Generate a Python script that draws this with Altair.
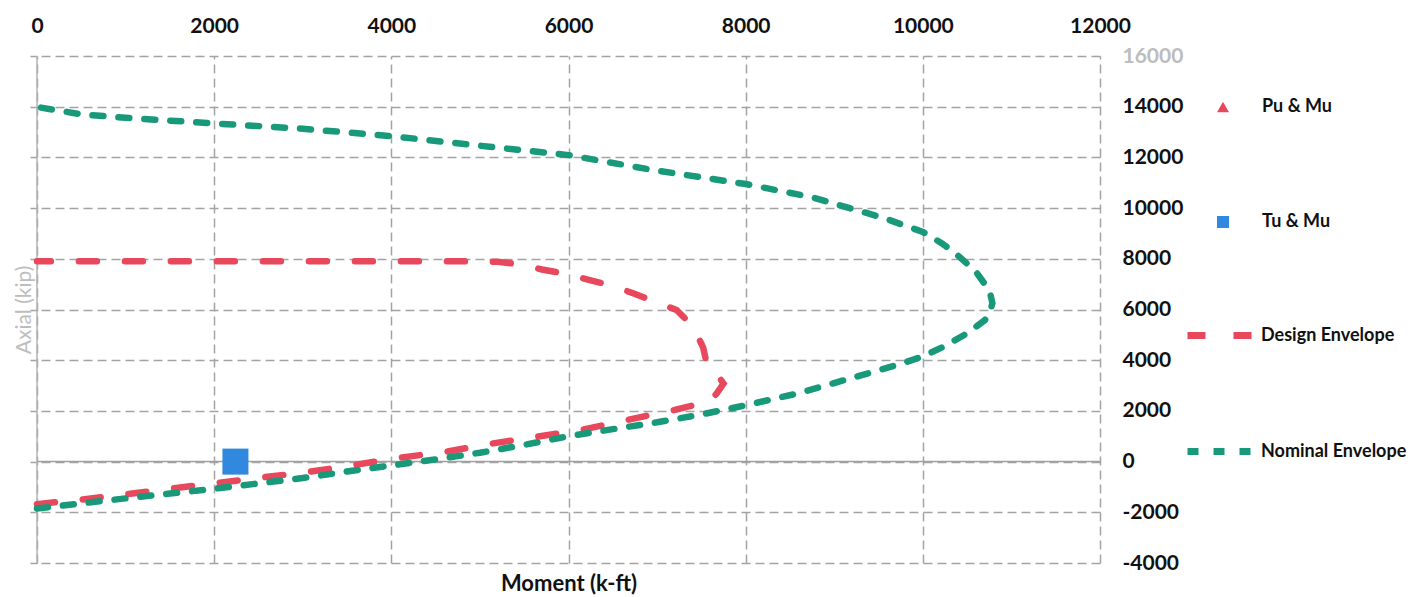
import altair as alt
import pandas as pd

# ---------------- data ----------------
env_names = ["Design Envelope", "Nominal Envelope"]

nominal_m = [0, 500, 1000, 1500, 2000, 2500, 3000, 3500, 4000, 4500, 5000, 5500, 6000, 6500,
             7000, 7500, 8000, 8600, 9200, 9700, 10000, 10250, 10500, 10700, 10760, 10785, 10760,
             10700, 10600, 10390, 10220, 10000, 9540, 8760, 8000, 6960, 6000, 5000, 4000, 3000,
             2000, 1000, 500, 0]
nominal_p = [-1850, -1650, -1450, -1260, -1070, -860, -650, -390, -150, 90, 350, 660, 1000, 1280,
             1550, 1860, 2220, 2700, 3300, 3800, 4150, 4560, 5060, 5580, 5900, 6250, 6650,
             7000, 7490, 8150, 8600, 9060, 9630, 10420, 10950, 11500, 12090, 12460, 12840, 13130,
             13340, 13560, 13700, 13990]

design_m = [0, 500, 1000, 1500, 2000, 2550, 3080, 3570, 4020, 4620, 5150, 5640, 6170, 6660,
            7200, 7600, 7680, 7750, 7620, 7560, 7520, 7410, 7220, 6975, 6730, 6470, 6240,
            5960, 5700, 5450, 5200, 4800, 0]
design_p = [-1680, -1500, -1290, -1070, -860, -620, -400, -140, 120, 390, 720, 980, 1270, 1640,
            2040, 2380, 2720, 3080, 3730, 3870, 4500, 5320, 5980, 6305, 6640, 6960, 7160,
            7410, 7580, 7780, 7880, 7900, 7900]

point_names = ["Pu & Mu", "Tu & Mu"]
point_m = [2240, 2240]
point_p = [0, 0]

x_ticks = [0, 2000, 4000, 6000, 8000, 10000, 12000]
y_ticks = [-4000, -2000, 0, 2000, 4000, 6000, 8000, 10000, 12000, 14000, 16000]
zero_lines = [0]

RED = "#e8485c"
GREEN = "#17997a"
BLUE = "#3088df"
GRID = "#a3a3a3"
FONT = "Lato"

rows = []
for name, ms, ps in [(env_names[0], design_m, design_p), (env_names[1], nominal_m, nominal_p)]:
    for i, (m, p) in enumerate(zip(ms, ps)):
        rows.append({"series": name, "idx": i, "M": m, "P": p})
env_df = pd.DataFrame(rows)
pt_df = pd.DataFrame({"pt": point_names, "M": point_m, "P": point_p})
zero_df = pd.DataFrame({"v": zero_lines})

xs = alt.Scale(domain=[0, 12000], nice=False, zero=False)
ys = alt.Scale(domain=[-4000, 16000], nice=False, zero=False)

x_axis_top = alt.Axis(orient="top", values=x_ticks, format="d", title=None, labelFlush=False,
                      labelOverlap=False, ticks=False, tickSize=0, domain=False, grid=True,
                      gridColor=GRID, gridDash=[9, 5], gridWidth=1.5, labelFont=FONT,
                      labelFontSize=21, labelFontWeight="bold", labelColor="#111111",
                      labelPadding=20)
y_axis_right = alt.Axis(orient="right", values=y_ticks, labelExpr="'' + datum.value", title=None,
                        labelOverlap=False, ticks=False, tickSize=0, domain=False, grid=True,
                        gridColor=GRID, gridDash=[9, 5], gridWidth=1.5, labelFont=FONT,
                        labelFontSize=21, labelFontWeight="bold", labelPadding=22,
                        labelColor={"condition": {"test": "datum.value == 16000", "value": "#bdbdbd"},
                                    "value": "#111111"})
x_axis_bottom = alt.Axis(orient="bottom", title="Moment (k-ft)", labels=False, ticks=False,
                         domain=False, grid=False, titleFont=FONT, titleFontSize=22,
                         titleFontWeight="bold", titleColor="#111111", titlePadding=10)
y_axis_left = alt.Axis(orient="left", values=y_ticks, title="Axial (kip)", labels=False,
                       ticks=True, tickSize=7, tickColor=GRID, tickWidth=1.5, domain=False,
                       grid=False, titleFont=FONT, titleFontSize=21, titleFontWeight="normal",
                       titleColor="#bdbdbd", titlePadding=-5)

env_legend = alt.Legend(orient="none", legendX=1147, legendY=241, title=None, padding=0,
                        symbolType="stroke", symbolSize=4900, symbolStrokeWidth=7,
                        labelFont=FONT, labelFontSize=18, labelFontWeight="bold",
                        labelColor="#111111", labelOffset=0, rowPadding=63)
pt_legend = alt.Legend(orient="none", legendX=1177, legendY=42, title=None, padding=0,
                       symbolSize=144, labelFont=FONT, labelFontSize=18, labelFontWeight="bold",
                       labelColor="#111111", labelOffset=30, rowPadding=97)

rule_x = alt.Chart(zero_df).mark_rule(color="#b3b3b3", strokeWidth=1.5).encode(
    x=alt.X("v:Q", scale=xs, axis=None))
rule_y = alt.Chart(zero_df).mark_rule(color="#a0a0a0", strokeWidth=1.5).encode(
    y=alt.Y("v:Q", scale=ys, axis=None))

lines = alt.Chart(env_df).mark_line(strokeWidth=6.5, strokeCap="round").encode(
    x=alt.X("M:Q", scale=xs, axis=x_axis_top),
    y=alt.Y("P:Q", scale=ys, axis=y_axis_right),
    stroke=alt.Stroke("series:N", scale=alt.Scale(domain=env_names, range=[RED, GREEN]),
                      legend=env_legend),
    strokeDash=alt.StrokeDash("series:N",
                              scale=alt.Scale(domain=env_names, range=[[18, 28], [11, 15]]),
                              legend=env_legend),
    order="idx:Q",
)

points = alt.Chart(pt_df).mark_point(filled=True, size=676, opacity=1).encode(
    x=alt.X("M:Q", scale=xs, axis=x_axis_bottom),
    y=alt.Y("P:Q", scale=ys, axis=y_axis_left),
    color=alt.Color("pt:N", scale=alt.Scale(domain=point_names, range=[RED, BLUE]),
                    legend=pt_legend),
    shape=alt.Shape("pt:N", scale=alt.Scale(domain=point_names, range=["triangle-up", "square"]),
                    legend=pt_legend),
)

chart = alt.layer(rule_x, rule_y, lines, points).resolve_axis(
    x="independent", y="independent"
).properties(
    width=1063, height=507,
    padding={"left": 29, "top": 48, "right": 318, "bottom": 34},
    autosize=alt.AutoSizeParams(type="none"),
).configure_view(stroke=None)

chart.save("out.html", embed_options={"renderer": "svg", "actions": False})
